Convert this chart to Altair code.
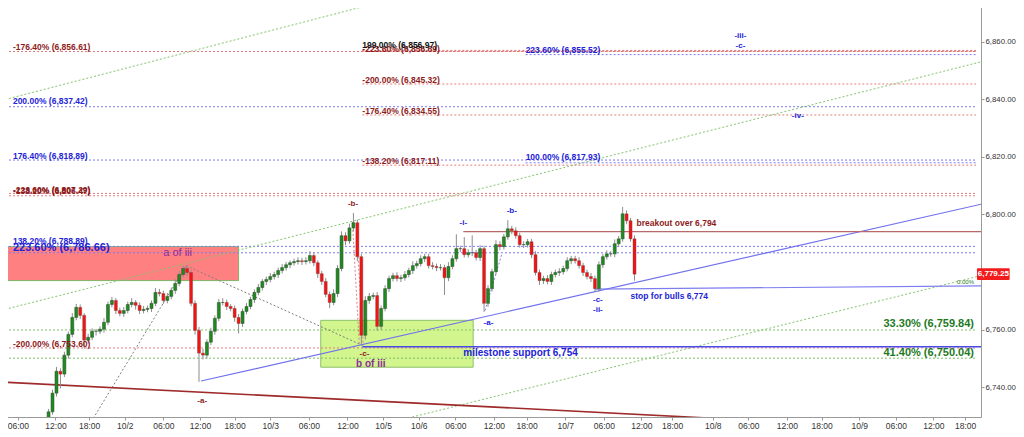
import altair as alt
import pandas as pd

FONT = "Liberation Sans"

# ---------------- candle data (bar index 10 .. 159) ----------------
first_bar = 10
first_open = 6726.0
closes = [
    6728.6, 6731.4, 6737.9, 6745.5, 6744.5, 6751.1, 6758.3, 6764.2, 6767.7, 6764.9,
    6756.3, 6757.3, 6759.4, 6759.4, 6760.1, 6762.5, 6768.7, 6770.1, 6766.6, 6765.6,
    6766.6, 6768.7, 6769.4, 6768.4, 6766.6, 6767.0, 6767.3, 6769.1, 6772.9, 6772.5,
    6770.1, 6771.5, 6773.6, 6776.0, 6779.1, 6781.2, 6779.8, 6769.1, 6759.7, 6751.8,
    6751.1, 6755.6, 6759.4, 6763.9, 6769.4, 6769.4, 6768.0, 6767.3, 6764.2, 6762.1,
    6766.3, 6768.0, 6770.4, 6772.9, 6774.6, 6776.7, 6777.4, 6778.4, 6779.1, 6780.5,
    6781.5, 6782.5, 6783.2, 6783.6, 6783.9, 6783.6, 6783.9, 6785.7, 6783.2, 6779.4,
    6776.7, 6772.2, 6769.4, 6772.5, 6781.2, 6792.6, 6790.8, 6795.3, 6797.1, 6785.3,
    6758.0, 6770.1, 6771.5, 6771.8, 6761.1, 6767.3, 6774.2, 6777.7, 6778.7, 6777.7,
    6778.0, 6779.1, 6780.5, 6782.2, 6782.9, 6784.6, 6785.3, 6782.2, 6781.9, 6781.5,
    6781.5, 6778.0, 6781.9, 6784.6, 6788.1, 6788.1, 6786.0, 6786.7, 6786.7, 6785.0,
    6788.1, 6769.1, 6774.2, 6780.1, 6789.5, 6788.8, 6792.2, 6795.0, 6794.3, 6792.6,
    6789.5, 6789.5, 6790.5, 6786.0, 6779.8, 6777.0, 6777.7, 6776.7, 6779.1, 6779.8,
    6780.1, 6781.2, 6783.9, 6784.6, 6783.9, 6782.2, 6779.8, 6778.4, 6777.7, 6774.2,
    6782.5, 6785.3, 6786.3, 6786.3, 6789.8, 6791.5, 6800.2, 6797.8, 6791.5, 6779.25,
]
wick_hi = [
    0.8, 1.0, 1.2, 1.5, 1.0, 1.2, 1.0, 1.5, 1.2, 1.0,
    0.8, 1.2, 1.0, 0.8, 1.0, 1.5, 1.0, 1.2, 0.8, 1.0,
    1.2, 1.0, 1.5, 0.8, 1.0, 1.2, 1.0, 1.0, 1.5, 1.2,
    1.0, 1.2, 1.0, 1.5, 1.2, 1.0, 1.0, 0.8, 1.0, 1.2,
    1.5, 1.0, 1.2, 1.0, 1.2, 1.5, 1.0, 0.8, 1.0, 1.2,
    1.0, 1.2, 1.0, 1.0, 1.2, 0.8, 1.0, 1.2, 1.0, 1.0,
    1.2, 1.0, 0.8, 1.0, 1.2, 1.0, 1.2, 1.5, 1.0, 0.8,
    1.0, 1.2, 1.0, 1.5, 1.2, 1.5, 1.2, 1.5, 3.4, 1.0,
    1.0, 1.5, 1.2, 1.0, 1.2, 1.0, 1.2, 1.0, 1.0, 1.2,
    1.0, 1.2, 1.0, 1.5, 1.0, 1.2, 1.0, 1.0, 1.2, 1.0,
    1.2, 1.0, 1.5, 1.2, 5.0, 1.0, 4.0, 1.2, 6.0, 1.0,
    1.2, 1.0, 1.2, 1.0, 1.5, 1.2, 1.0, 3.0, 1.0, 1.2,
    1.0, 1.2, 1.0, 1.0, 1.2, 1.0, 1.0, 1.2, 1.0, 1.0,
    1.2, 1.0, 1.2, 1.0, 1.0, 1.2, 1.0, 1.0, 1.2, 1.0,
    1.2, 1.0, 1.2, 1.0, 1.5, 1.0, 2.4, 1.2, 1.0, 1.2,
]
wick_lo = [
    3.0, 1.2, 1.0, 1.2, 5.0, 1.0, 1.2, 1.0, 1.0, 1.2,
    3.0, 1.2, 1.0, 1.5, 1.0, 1.2, 1.0, 1.0, 1.2, 1.0,
    1.2, 1.0, 1.0, 1.5, 1.2, 1.0, 1.0, 1.2, 1.0, 1.0,
    1.2, 1.0, 1.0, 1.2, 1.0, 1.0, 1.2, 1.0, 1.5, 10.0,
    1.5, 1.2, 1.0, 1.2, 1.0, 1.0, 1.2, 1.0, 1.5, 3.5,
    1.2, 1.0, 1.0, 1.2, 1.0, 1.0, 1.2, 1.0, 1.0, 1.2,
    1.0, 1.0, 1.2, 1.0, 1.0, 1.2, 1.0, 1.0, 1.2, 1.5,
    1.2, 1.0, 2.0, 1.0, 1.2, 1.0, 1.5, 1.0, 1.2, 1.5,
    3.1, 1.5, 1.2, 1.0, 1.5, 1.2, 1.0, 1.2, 1.0, 1.0,
    1.2, 1.0, 1.0, 1.2, 1.0, 1.0, 1.2, 1.0, 1.0, 1.2,
    1.0, 6.0, 1.2, 1.0, 1.0, 1.2, 1.0, 1.0, 1.2, 1.0,
    1.2, 3.0, 1.2, 1.0, 1.0, 1.2, 1.0, 1.0, 1.2, 1.0,
    1.0, 1.2, 1.0, 1.2, 1.0, 1.5, 1.2, 1.0, 1.2, 1.0,
    1.2, 1.0, 1.0, 1.2, 1.0, 1.0, 1.2, 1.0, 1.2, 1.0,
    1.0, 1.2, 1.0, 1.0, 1.2, 1.0, 1.0, 1.2, 1.0, 2.3,
]

# ---------------- axes ----------------
tick_pos = [3.25, 12.75, 21.25, 30.25, 40, 49.25, 58, 67, 76.75, 86.5, 95.5, 104.5,
            113.75, 123.5, 131.75, 141.5, 151.25, 160.75, 168.5, 178.75, 187.75,
            197.5, 206.25, 215.75, 225, 234.5, 242.5]
tick_lbl = ["06:00", "12:00", "18:00", "10/2", "06:00", "12:00", "18:00", "10/3",
            "06:00", "12:00", "10/5", "10/6", "06:00", "12:00", "18:00", "10/7",
            "06:00", "12:00", "18:00", "10/8", "06:00", "12:00", "18:00", "10/9",
            "06:00", "12:00", "18:00"]
y_ticks = [6740, 6760, 6800, 6820, 6840, 6860]
last_price = 6779.25
x_domain = [0, 245.25]
y_domain = [6729.6, 6874.5]

# ---------------- fibonacci levels ----------------
fib_price = [6856.61, 6856.69, 6856.97, 6845.32, 6834.55, 6817.11, 6807.29, 6806.47,
             6753.60, 6855.52, 6837.42, 6818.89, 6817.93, 6788.89, 6786.66,
             6759.84, 6750.04]
fib_start = [0, 90.25, 90.25, 90.25, 90.25, 90.25, 0, 0,
             0, 131.5, 0, 0, 131.5, 0, 0,
             0, 0]
fib_kind = ["red", "red", "red", "red", "red", "red", "red", "red",
            "red", "blue", "blue", "blue", "blue", "blue", "blue",
            "green", "green"]

# ---------------- drawn lines ----------------
seg_kind = ["green_dot", "green_dot", "green_dot", "gray_dot", "gray_dot",
            "red_dot", "red_dot", "blue_dot", "blue_trend", "blue_stop",
            "blue_mile", "red_break", "dark_red"]
seg_x1 = [0, 0, 95, 45.75, 21.75, 87.75, 88.75, 121.25, 49.5, 149, 90.25, 115.75, 0]
seg_p1 = [6767.0, 6839.9, 6726.9, 6782.2, 6727.9, 6797.4, 6795.0, 6766.6, 6742.1,
          6774.0, 6754.0, 6794.0, 6741.7]
seg_x2 = [246.75, 100, 246.75, 90.25, 45.75, 89.5, 90.5, 125.5, 246.75, 246.75,
          246.75, 246.75, 192.5]
seg_p2 = [6853.1, 6875.6, 6778.8, 6754.5, 6782.2, 6754.5, 6754.5, 6786.3, 6803.6,
          6775.2, 6754.0, 6794.0, 6728.2]

# ---------------- zones ----------------
zone_kind = ["red_zone", "green_zone"]
zone_x1 = [0.5, 79.75]
zone_x2 = [59, 118.25]
zone_p1 = [6777.0, 6746.9]
zone_p2 = [6788.8, 6763.2]

# ---------------- annotations ----------------
lbl_text = ["-176.40% (6,856.61)", "200.00% (6,837.42)", "176.40% (6,818.89)",
            "-223.60% (6,807.29)", "-138.20% (6,806.47)", "138.20% (6,788.89)",
            "-200.00% (6,753.60)",
            "199.00% (6,856.97)", "-223.60% (6,856.69)", "-200.00% (6,845.32)",
            "-176.40% (6,834.55)", "-138.20% (6,817.11)",
            "223.60% (6,855.52)", "100.00% (6,817.93)",
            "223.60% (6,786.66)",
            "33.30% (6,759.84)", "41.40% (6,750.04)", "0.00%",
            "breakout over 6,794", "stop for bulls 6,774", "milestone support 6,754",
            "a of iii", "b of iii",
            "-a-", "-b-", "-c-",
            "-i-", "-b-", "-a-", "-c-", "-ii-", "-iii-", "-c-", "-iv-"]
lbl_b = [2, 2, 2, 2, 2, 2, 2,
         90.25, 90.25, 90.25, 90.25, 90.25,
         131.5, 131.5,
         2,
         244.75, 244.75, 244.75,
         159.5, 158, 115.75,
         43.6, 92.4,
         49.8, 87.9, 90.8,
         115.75, 128, 122.1, 149.75, 149.75, 185.75, 185.75, 200.25]
lbl_p = [6858.3, 6839.3, 6820.2, 6808.6, 6808.0, 6790.7, 6755.0,
         6858.7, 6857.6, 6846.6, 6835.9, 6818.4,
         6857.0, 6819.8,
         6788.4,
         6761.8, 6751.7, 6776.6,
         6797.1, 6771.8, 6751.8,
         6786.7, 6748.0,
         6735.1, 6803.6, 6751.5,
         6797.1, 6801.2, 6762.1, 6770.2, 6766.7, 6862.1, 6858.6, 6834.1]
lbl_kind = ["red", "blue", "blue", "red", "red", "blue", "red",
            "black", "red", "red", "red", "red",
            "blue", "blue",
            "blue",
            "green", "green", "green",
            "red", "blue", "blue",
            "purple", "purple",
            "red", "red", "red",
            "blue", "blue", "blue", "blue", "blue", "blue", "blue", "blue"]
lbl_style = ["fib"] * 14 + ["bigL", "bigR", "bigR", "tiny", "note", "note", "mile",
                            "aof", "bof"] + ["wave"] * 11

# ---------------- styles (code-side only) ----------------
LINE_COL = {"red": "#e27c7c", "blue": "#7a7af2", "green": "#7cbf66"}
TEXT_COL = {"red": "#8e1b1b", "blue": "#2323d6", "green": "#1e7a1e",
            "black": "#111111", "purple": "#8e2c9e"}
SEG_STYLE = {
    "green_dot": ("#84c46e", 1, [2, 2]),
    "gray_dot": ("#808080", 1, [2, 2]),
    "red_dot": ("#e08080", 1, [2, 2]),
    "blue_dot": ("#8080f0", 1, [2, 2]),
    "blue_trend": ("#7070ee", 1.2, None),
    "blue_stop": ("#7d7df0", 1.2, None),
    "blue_mile": ("#4b4be6", 1.6, None),
    "red_break": ("#b86a6a", 1.2, None),
    "dark_red": ("#9e2a2a", 1.6, None),
}
ZONE_STYLE = {"red_zone": ("#ff8080", "#7fb46a"), "green_zone": ("#d2f58e", "#8cc068")}
TEXT_STYLE = {
    "fib": dict(fontSize=8.5, fontWeight="bold", align="left"),
    "bigL": dict(fontSize=11, fontWeight="bold", align="left"),
    "bigR": dict(fontSize=11, fontWeight="bold", align="right"),
    "tiny": dict(fontSize=6, fontWeight="normal", align="right"),
    "note": dict(fontSize=8.5, fontWeight="bold", align="left"),
    "mile": dict(fontSize=10, fontWeight="bold", align="left"),
    "aof": dict(fontSize=11, fontWeight="normal", align="center"),
    "bof": dict(fontSize=10, fontWeight="bold", align="center"),
    "wave": dict(fontSize=8, fontWeight="bold", align="center"),
}

label_expr = " : ".join(f"datum.value == {p} ? '{l}'" for p, l in zip(tick_pos, tick_lbl)) + " : ''"
X_AXIS = alt.Axis(values=tick_pos, labelExpr=label_expr, grid=False, tickSize=3,
                  labelPadding=1, labelFontSize=8.5, labelFont=FONT, labelColor="#333",
                  tickColor="#999", domainColor="#9a9a9a", title=None,
                  labelOverlap=False, labelFlush=False)
Y_AXIS = alt.Axis(orient="right", values=y_ticks, format=",.2f", grid=False, tickSize=3,
                  labelPadding=1, labelFontSize=7.8, labelFont=FONT, labelColor="#333",
                  tickColor="#999", domainColor="#9a9a9a", title=None)

xs = alt.Scale(domain=x_domain, nice=False, zero=False)
ys = alt.Scale(domain=y_domain, nice=False, zero=False)


def qx(f):
    return alt.X(f, type="quantitative", scale=xs, axis=X_AXIS)


def qy(f):
    return alt.Y(f, type="quantitative", scale=ys, axis=Y_AXIS)


# candles table
opens = [first_open] + closes[:-1]
cdf = pd.DataFrame({
    "b": list(range(first_bar, first_bar + len(closes))),
    "o": opens, "c": closes,
})
cdf["hi"] = [max(o, c) + w for o, c, w in zip(opens, closes, wick_hi)]
cdf["lo"] = [min(o, c) - w for o, c, w in zip(opens, closes, wick_lo)]
cdf["up"] = cdf["c"] >= cdf["o"]

layers = []

# zones
zdf = pd.DataFrame({"k": zone_kind, "x1": zone_x1, "x2": zone_x2, "p1": zone_p1, "p2": zone_p2})
for k, (fill, stroke) in ZONE_STYLE.items():
    layers.append(alt.Chart(zdf[zdf.k == k]).mark_rect(fill=fill, stroke=stroke, strokeWidth=1)
                  .encode(x=qx("x1"), x2="x2", y=qy("p1"), y2="p2"))

# fib levels
fdf = pd.DataFrame({"p": fib_price, "x1": fib_start, "k": fib_kind})
fdf["x2"] = x_domain[1]
for k, col in LINE_COL.items():
    layers.append(alt.Chart(fdf[fdf.k == k]).mark_rule(color=col, strokeWidth=1, strokeDash=[2, 2])
                  .encode(x=qx("x1"), x2="x2", y=qy("p")))

# drawn segments
sdf = pd.DataFrame({"k": seg_kind, "x1": seg_x1, "p1": seg_p1, "x2": seg_x2, "p2": seg_p2})
for k, (col, w, dash) in SEG_STYLE.items():
    kw = dict(color=col, strokeWidth=w, clip=True)
    if dash:
        kw["strokeDash"] = dash
    layers.append(alt.Chart(sdf[sdf.k == k]).mark_rule(**kw)
                  .encode(x=qx("x1"), x2="x2", y=qy("p1"), y2="p2"))

# candle wicks
layers.append(alt.Chart(cdf).mark_rule(color="#8c8c8c", strokeWidth=1, clip=True)
              .encode(x=qx("b"), y=qy("lo"), y2="hi"))
# candle bodies
layers.append(alt.Chart(cdf[cdf.up]).mark_bar(size=3, color="#1f8a1f", stroke="#2f4a2f",
                                              strokeWidth=0.5, clip=True)
              .encode(x=qx("b"), y=qy("o"), y2="c"))
layers.append(alt.Chart(cdf[~cdf.up]).mark_bar(size=3, color="#f01414", stroke="#7a4040",
                                               strokeWidth=0.4, clip=True)
              .encode(x=qx("b"), y=qy("o"), y2="c"))

# annotations
ldf = pd.DataFrame({"t": lbl_text, "b": lbl_b, "p": lbl_p, "k": lbl_kind, "s": lbl_style})
for s, st in TEXT_STYLE.items():
    for k, col in TEXT_COL.items():
        sub = ldf[(ldf.s == s) & (ldf.k == k)]
        if len(sub) == 0:
            continue
        layers.append(alt.Chart(sub).mark_text(font=FONT, baseline="middle", color=col, **st)
                      .encode(x=qx("b"), y=qy("p"), text="t"))

# last-price tag on the axis
pdf = pd.DataFrame({"x1": [245.5], "x2": [253.75], "p": [last_price], "t": [f"{last_price:,.2f}"]})
pdf["p1"] = pdf["p"] - 2.05
pdf["p2"] = pdf["p"] + 2.05
pdf["xm"] = (pdf["x1"] + pdf["x2"]) / 2
layers.append(alt.Chart(pdf).mark_rect(fill="#f21c1c", cornerRadius=1)
              .encode(x=qx("x1"), x2="x2", y=qy("p1"), y2="p2"))
layers.append(alt.Chart(pdf).mark_text(font=FONT, fontSize=8, fontWeight="bold", color="white",
                                       align="center", baseline="middle")
              .encode(x=qx("xm"), y=qy("p"), text="t"))

chart = (alt.layer(*layers)
         .properties(width=981, height=417,
                     padding={"left": -8, "top": -8, "right": 35, "bottom": 12},
                     autosize=alt.AutoSizeParams(type="none"),
                     background="white")
         .configure_view(strokeWidth=0))

chart.save("out.html", embed_options={"renderer": "svg", "actions": False})
